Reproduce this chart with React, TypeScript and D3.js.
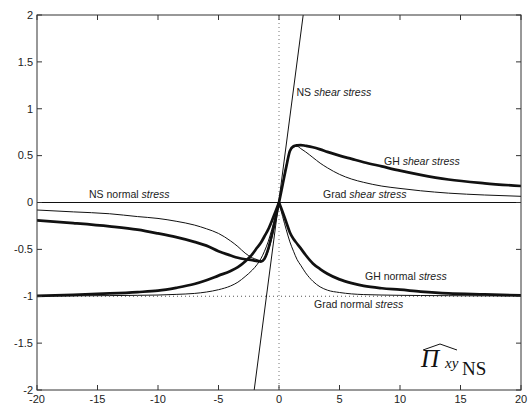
import React, { useEffect, useRef } from 'react';
import * as d3 from 'd3';

// sample positions
const xs = [-20, -17, -14, -11.7, -10, -8.5, -7, -6, -5, -4, -3.4, -2.8, -2.2, -1.8, -1.5, -1.2, -0.9, -0.6, -0.3, 0,
  0.3, 0.6, 0.9, 1.2, 1.5, 1.8, 2.2, 2.8, 3.4, 4, 5, 6, 7, 8.5, 10, 11.7, 14, 17, 20];

const ghShear = [-0.19, -0.22, -0.255, -0.29, -0.33, -0.37, -0.42, -0.46, -0.52, -0.565, -0.59, -0.605, -0.615, -0.625, -0.63, -0.6, -0.5, -0.35, -0.18, 0,
  0.19, 0.38, 0.55, 0.6, 0.61, 0.613, 0.605, 0.59, 0.567, 0.54, 0.5, 0.465, 0.43, 0.385, 0.34, 0.295, 0.245, 0.205, 0.176];

const gradShear = [-0.08, -0.1, -0.12, -0.15, -0.17, -0.2, -0.24, -0.28, -0.33, -0.41, -0.47, -0.54, -0.59, -0.61, -0.62, -0.6, -0.52, -0.38, -0.2, 0,
  0.2, 0.4, 0.55, 0.59, 0.6, 0.575, 0.54, 0.48, 0.42, 0.37, 0.3, 0.25, 0.215, 0.175, 0.15, 0.125, 0.1, 0.08, 0.066];

const ghNormal = [-0.995, -0.985, -0.97, -0.955, -0.94, -0.91, -0.87, -0.83, -0.78, -0.73, -0.69, -0.63, -0.55, -0.48, -0.43, -0.36, -0.29, -0.2, -0.1, 0,
  -0.1, -0.21, -0.32, -0.39, -0.44, -0.49, -0.56, -0.65, -0.71, -0.76, -0.82, -0.86, -0.89, -0.915, -0.93, -0.95, -0.97, -0.98, -0.99];

const gradNormal = [-0.997, -0.996, -0.993, -0.99, -0.987, -0.98, -0.97, -0.955, -0.93, -0.89, -0.85, -0.79, -0.72, -0.66, -0.6, -0.52, -0.42, -0.29, -0.15, 0,
  -0.15, -0.29, -0.42, -0.52, -0.61, -0.67, -0.75, -0.84, -0.9, -0.935, -0.96, -0.975, -0.982, -0.987, -0.99, -0.992, -0.994, -0.996, -0.997];

// straight NS lines, end points
const nsShearX = [-2.05, 2.0];
const nsShearY = [-2, 2];
const nsNormalX = [-20, 20];
const nsNormalY = [0, 0];

const xTicks = [-20, -15, -10, -5, 0, 5, 10, 15, 20];
const yTicks = [-2, -1.5, -1, -0.5, 0, 0.5, 1, 1.5, 2];

const labels = [
  { x: 296.5, y: 96, plain: 'NS ', ital: 'shear stress' },
  { x: 384, y: 165, plain: 'GH ', ital: 'shear stress' },
  { x: 323, y: 198, plain: 'Grad ', ital: 'shear stress' },
  { x: 89, y: 198, plain: 'NS normal ', ital: 'stress' },
  { x: 365, y: 280, plain: 'GH normal ', ital: 'stress' },
  { x: 314, y: 308, plain: 'Grad normal ', ital: 'stress' },
];

const App = () => {
  const svgRef = useRef<SVGSVGElement>(null);

  useEffect(() => {
    if (!svgRef.current) return;
    const width = 532;
    const height = 408;
    const m = { left: 37, right: 11, top: 15, bottom: 18 };

    const svg = d3.select(svgRef.current);
    svg.selectAll('*').remove();
    svg.attr('width', width).attr('height', height);

    const x = d3.scaleLinear().domain([-20, 20]).range([m.left, width - m.right]);
    const y = d3.scaleLinear().domain([-2, 2]).range([height - m.bottom, m.top]);

    svg.append('rect').attr('width', width).attr('height', height).attr('fill', '#fff');

    svg.append('defs').append('clipPath').attr('id', 'plot-clip')
      .append('rect')
      .attr('x', m.left).attr('y', m.top)
      .attr('width', width - m.left - m.right)
      .attr('height', height - m.top - m.bottom);

    const g = svg.append('g').attr('clip-path', 'url(#plot-clip)');
    const ink = '#111';

    // dotted reference lines
    g.append('line')
      .attr('x1', x(0)).attr('x2', x(0)).attr('y1', y(2)).attr('y2', y(-2))
      .attr('stroke', '#777').attr('stroke-width', 1).attr('stroke-dasharray', '1,3');
    g.append('line')
      .attr('x1', x(-20)).attr('x2', x(20)).attr('y1', y(-1)).attr('y2', y(-1))
      .attr('stroke', '#555').attr('stroke-width', 1).attr('stroke-dasharray', '1,3');

    const line = d3.line<[number, number]>()
      .x(d => x(d[0]))
      .y(d => y(d[1]))
      .curve(d3.curveMonotoneX);

    const pts = (ys: number[], xv: number[] = xs) => xv.map((v, i) => [v, ys[i]] as [number, number]);
    // cusp curves are drawn as two branches so the peak at 0 stays sharp
    const branches = (ys: number[]) => {
      const all = pts(ys);
      return [all.filter(d => d[0] <= 0), all.filter(d => d[0] >= 0)];
    };

    const draw = (data: [number, number][], w: number) => {
      g.append('path')
        .attr('d', line(data))
        .attr('fill', 'none')
        .attr('stroke', ink)
        .attr('stroke-width', w)
        .attr('stroke-linejoin', 'round');
    };

    draw(pts(nsNormalY, nsNormalX), 1);
    draw(pts(nsShearY, nsShearX), 1);
    draw(pts(gradShear), 1);
    branches(gradNormal).forEach(b => draw(b, 1));
    draw(pts(ghShear), 2.7);
    branches(ghNormal).forEach(b => draw(b, 2.7));

    // frame
    svg.append('rect')
      .attr('x', m.left).attr('y', m.top)
      .attr('width', width - m.left - m.right)
      .attr('height', height - m.top - m.bottom)
      .attr('fill', 'none').attr('stroke', '#333').attr('stroke-width', 1);

    const tickLen = 5;
    const axes = svg.append('g').attr('stroke', '#333').attr('stroke-width', 1);
    xTicks.forEach(t => {
      axes.append('line').attr('x1', x(t)).attr('x2', x(t)).attr('y1', y(-2)).attr('y2', y(-2) - tickLen);
      axes.append('line').attr('x1', x(t)).attr('x2', x(t)).attr('y1', y(2)).attr('y2', y(2) + tickLen);
    });
    yTicks.forEach(t => {
      axes.append('line').attr('x1', x(-20)).attr('x2', x(-20) + tickLen).attr('y1', y(t)).attr('y2', y(t));
      axes.append('line').attr('x1', x(20)).attr('x2', x(20) - tickLen).attr('y1', y(t)).attr('y2', y(t));
    });

    const font = '"Liberation Sans", Arial, sans-serif';
    svg.append('g').selectAll('text').data(xTicks).join('text')
      .attr('x', d => x(d)).attr('y', 403)
      .attr('text-anchor', 'middle')
      .attr('font-family', font).attr('font-size', 11).attr('fill', '#222')
      .text(d => String(d));
    svg.append('g').selectAll('text').data(yTicks).join('text')
      .attr('x', 33).attr('y', d => y(d))
      .attr('dy', '0.35em')
      .attr('text-anchor', 'end')
      .attr('font-family', font).attr('font-size', 11).attr('fill', '#222')
      .text(d => String(d));

    // curve annotations
    labels.forEach(l => {
      const t = svg.append('text')
        .attr('x', l.x).attr('y', l.y)
        .attr('font-family', font).attr('font-size', 10.5).attr('fill', '#222');
      t.append('tspan').text(l.plain);
      t.append('tspan').attr('font-style', 'italic').text(l.ital);
    });

    // Pi-hat xy NS symbol
    const serif = '"Liberation Serif", "DejaVu Serif", serif';
    svg.append('text')
      .attr('x', 421).attr('y', 367)
      .attr('font-family', serif).attr('font-style', 'italic').attr('font-size', 25).attr('fill', '#111')
      .text('\u03A0');
    svg.append('text')
      .attr('x', 445).attr('y', 368)
      .attr('font-family', serif).attr('font-style', 'italic').attr('font-size', 15).attr('fill', '#111')
      .text('xy');
    svg.append('text')
      .attr('x', 462).attr('y', 375)
      .attr('font-family', serif).attr('font-size', 19).attr('fill', '#111')
      .text('NS');
    svg.append('path')
      .attr('d', d3.line()([[423, 350], [440, 344], [457, 350]]))
      .attr('fill', 'none').attr('stroke', '#111').attr('stroke-width', 1);
  }, []);

  return (
    <div style={{ position: 'absolute', left: 0, top: 0 }}>
      <svg ref={svgRef} style={{ display: 'block' }}></svg>
    </div>
  );
};

export default App;
